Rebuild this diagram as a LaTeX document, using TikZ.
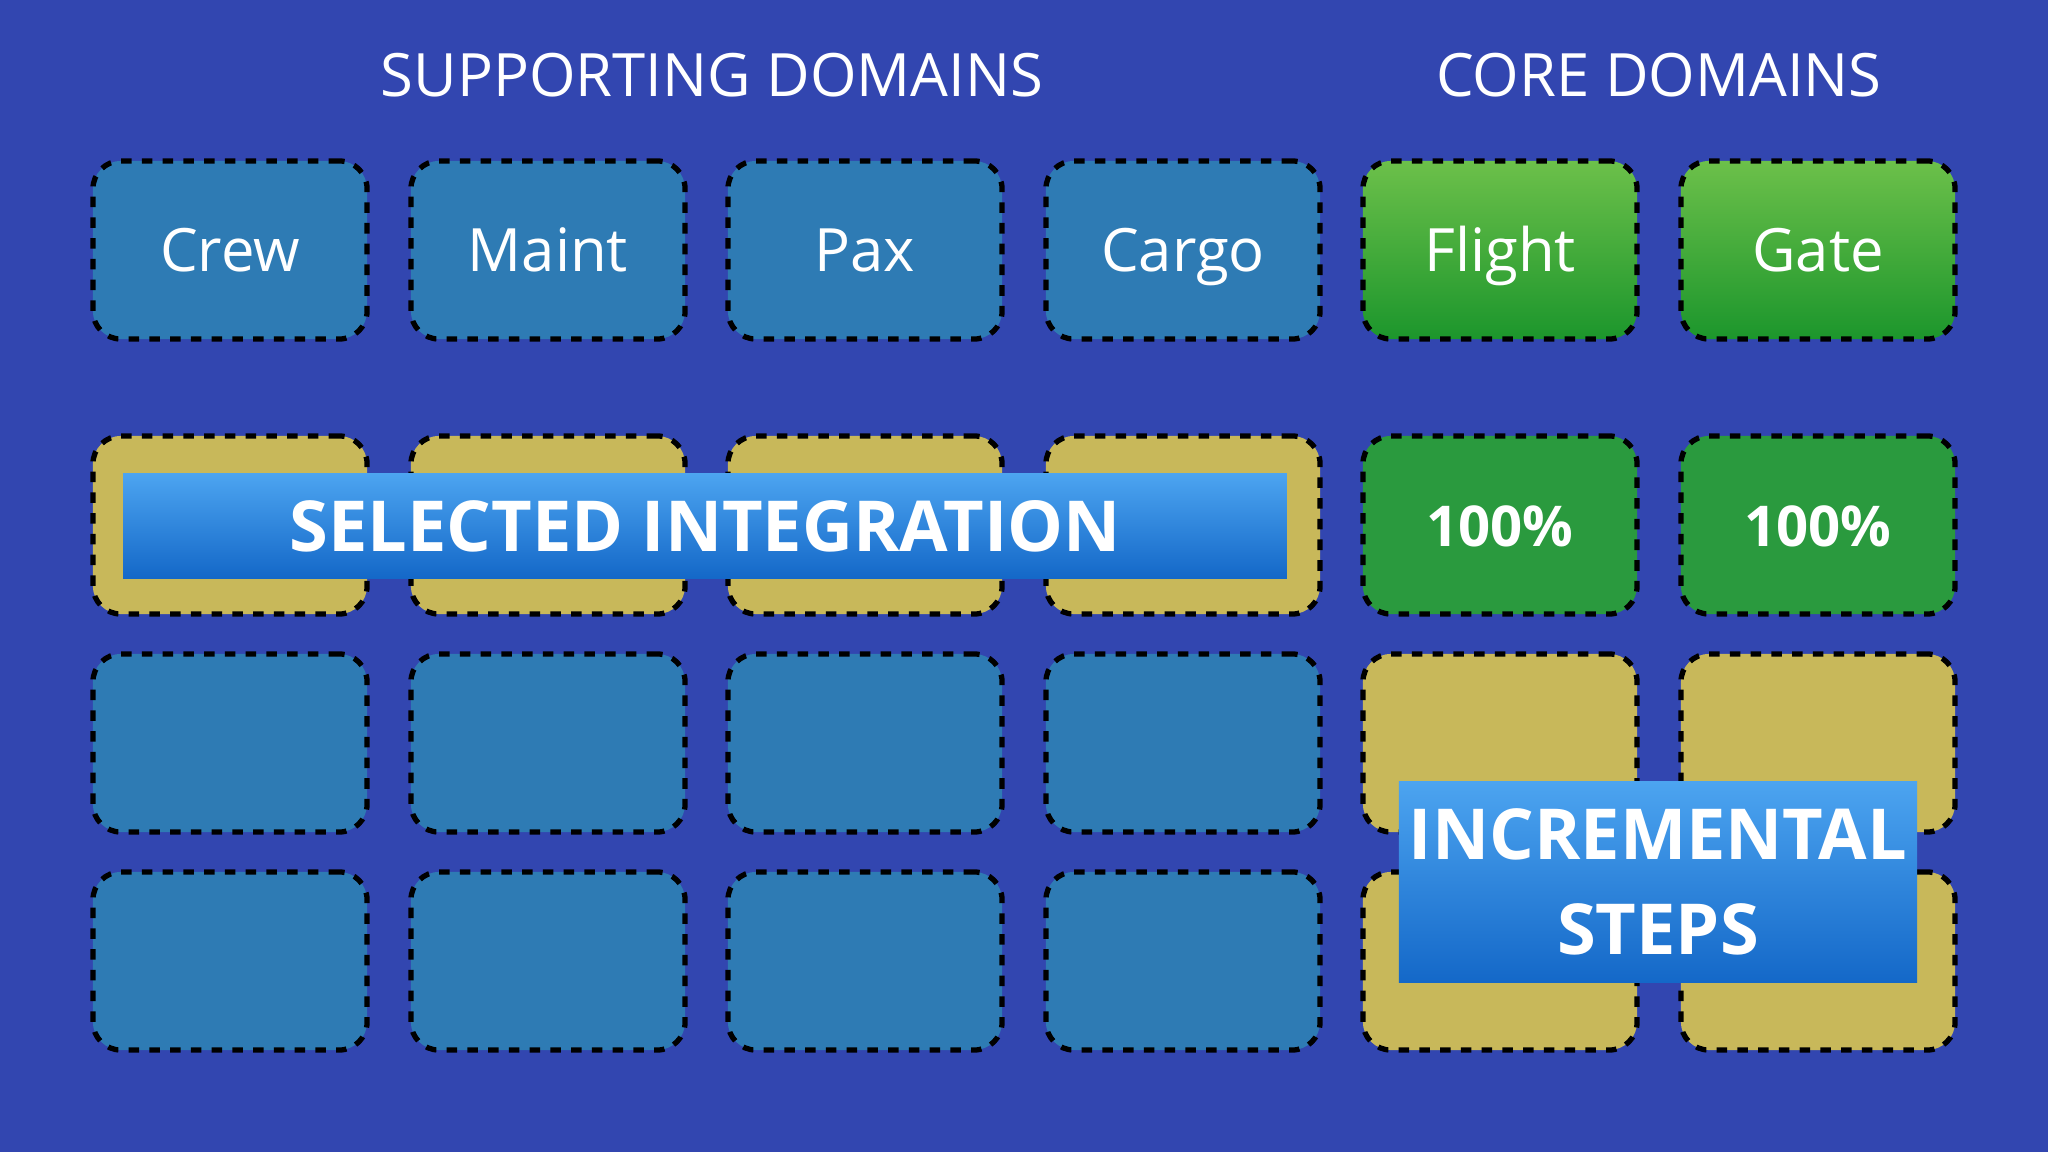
\documentclass[tikz,border=0pt]{standalone}
\usepackage{fontspec}
\setmainfont{Open Sans}
\usepackage{tikz}
\definecolor{bgblue}{RGB}{50,70,176}
\definecolor{boxblue}{RGB}{46,123,180}
\definecolor{boxyellow}{RGB}{200,184,90}
\definecolor{greentop}{RGB}{108,192,74}
\definecolor{greenbot}{RGB}{28,150,44}
\definecolor{greenfull}{RGB}{42,154,62}
\definecolor{bantop}{RGB}{76,164,240}
\definecolor{banbot}{RGB}{20,104,200}

\begin{document}
\begin{tikzpicture}[x=0.01cm, y=-0.01cm,
		domainbox/.style={draw=black, line width=1.5pt, dash pattern=on 3pt off 2.9pt, rounded corners=0.28cm, minimum width=2.74cm, minimum height=1.78cm, inner sep=0pt, text=white, text height=15pt, text depth=2.86pt, font=\fontsize{17}{20}\selectfont},
		suppbox/.style={domainbox, fill=boxblue},
		stepbox/.style={domainbox, fill=boxyellow},
		corebox/.style={domainbox, top color=greentop, bottom color=greenbot},
		donebox/.style={domainbox, fill=greenfull, font=\fontsize{16}{19}\selectfont\bfseries},
		banner/.style={top color=bantop, bottom color=banbot, inner sep=0pt, text=white, font=\fontsize{20}{27}\selectfont\bfseries},
		title/.style={text=white, font=\fontsize{17}{20}\selectfont}]
			%%%%% START %%%%%
			
			\fill[bgblue] (0, 0) rectangle (2048, 1152);
			
			\node[title] (supporting) at (712, 75) {SUPPORTING DOMAINS};
			\node[title] (core) at (1659, 75) {CORE DOMAINS};
			
			\node[suppbox] (crew) at (230, 250) {Crew};
			\node[suppbox] (maint) at (548, 250) {Maint};
			\node[suppbox] (pax) at (865, 250) {Pax};
			\node[suppbox] (cargo) at (1183, 250) {Cargo};
			\node[corebox] (flight) at (1500, 250) {Flight};
			\node[corebox] (gate) at (1818, 250) {Gate};
			
			\node[stepbox] (crew2) at (230, 525) {};
			\node[stepbox] (maint2) at (548, 525) {};
			\node[stepbox] (pax2) at (865, 525) {};
			\node[stepbox] (cargo2) at (1183, 525) {};
			\node[donebox] (flight2) at (1500, 525) {100\%};
			\node[donebox] (gate2) at (1818, 525) {100\%};
			
			\node[suppbox] (crew3) at (230, 743) {};
			\node[suppbox] (maint3) at (548, 743) {};
			\node[suppbox] (pax3) at (865, 743) {};
			\node[suppbox] (cargo3) at (1183, 743) {};
			\node[stepbox] (flight3) at (1500, 743) {};
			\node[stepbox] (gate3) at (1818, 743) {};
			
			\node[suppbox] (crew4) at (230, 961) {};
			\node[suppbox] (maint4) at (548, 961) {};
			\node[suppbox] (pax4) at (865, 961) {};
			\node[suppbox] (cargo4) at (1183, 961) {};
			\node[stepbox] (flight4) at (1500, 961) {};
			\node[stepbox] (gate4) at (1818, 961) {};
			
			\node[banner, minimum width=11.63cm, minimum height=1.04cm] (selected) at (705, 526) {SELECTED INTEGRATION};
			\node[banner, minimum width=5.18cm, minimum height=2.0cm, align=center] (incremental) at (1658, 882) {INCREMENTAL\\STEPS};
			
			%%%%% END %%%%%
		\end{tikzpicture}
\end{document}
